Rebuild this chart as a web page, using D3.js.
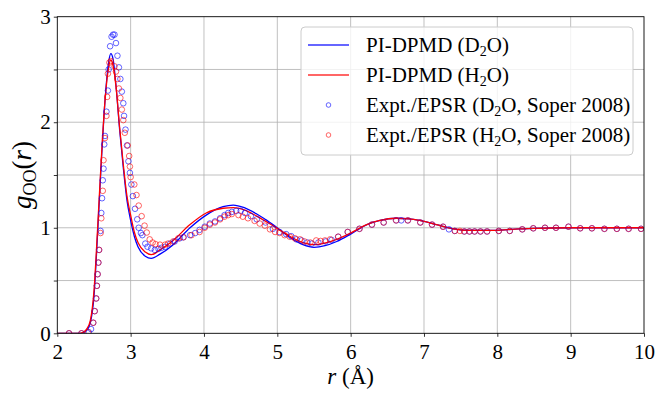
<!DOCTYPE html>
<html lang="en">
<head>
<meta charset="UTF-8">
<title>g_OO(r)</title>
<script src="https://d3js.org/d3.v7.min.js"></script>
<style>
  body { margin: 0; background: #fff; }
  svg { display: block; }
  .grid line { stroke: #b0b0b0; stroke-width: 0.8px; }
</style>
</head>
<body>
<svg width="664" height="399"></svg>
<script>
// PI-DPMD curves (r in Å)
const simR = [2.0, 2.30, 2.35, 2.40, 2.45, 2.50, 2.55, 2.60, 2.65, 2.70, 2.73, 2.76, 2.80, 2.85, 2.90, 2.95, 3.00, 3.05, 3.10, 3.20, 3.28, 3.40, 3.58, 3.81, 4.03, 4.26, 4.40, 4.55, 4.72, 4.94, 5.17, 5.35, 5.50, 5.65, 5.81, 6.00, 6.22, 6.40, 6.62, 6.80, 6.94, 7.17, 7.40, 7.62, 7.90, 8.20, 8.50, 9.00, 9.50, 10.0];
const simH2O = [0, 0, 0.01, 0.04, 0.12, 0.40, 1.00, 1.65, 2.20, 2.52, 2.59, 2.54, 2.34, 1.95, 1.60, 1.30, 1.12, 0.96, 0.86, 0.77, 0.745, 0.79, 0.88, 1.03, 1.14, 1.185, 1.19, 1.17, 1.11, 1.02, 0.92, 0.86, 0.84, 0.855, 0.89, 0.95, 1.03, 1.07, 1.09, 1.085, 1.07, 1.03, 0.99, 0.975, 0.975, 0.985, 0.995, 1.0, 1.0, 1.0];
const simD2O = [0, 0, 0.005, 0.03, 0.10, 0.35, 0.95, 1.62, 2.20, 2.57, 2.65, 2.60, 2.35, 1.93, 1.57, 1.26, 1.07, 0.92, 0.82, 0.73, 0.71, 0.75, 0.84, 1.00, 1.12, 1.20, 1.215, 1.19, 1.13, 1.03, 0.91, 0.84, 0.815, 0.83, 0.87, 0.94, 1.03, 1.07, 1.09, 1.085, 1.07, 1.03, 0.99, 0.975, 0.975, 0.985, 0.995, 1.0, 1.0, 1.0];

// Expt./EPSR, Soper 2008
const expR_D2O = [2.16, 2.33, 2.43, 2.46, 2.49, 2.51, 2.53, 2.54, 2.55, 2.56, 2.57, 2.59, 2.60, 2.61, 2.62, 2.63, 2.64, 2.65, 2.67, 2.69, 2.70, 2.72, 2.74, 2.76, 2.78, 2.80, 2.82, 2.84, 2.86, 2.88, 2.90, 2.91, 2.93, 2.95, 2.97, 2.99, 3.01, 3.03, 3.06, 3.09, 3.11, 3.14, 3.16, 3.20, 3.23, 3.28, 3.33, 3.38, 3.42, 3.47, 3.54, 3.60, 3.67, 3.72, 3.81, 3.88, 3.94, 4.01, 4.08, 4.15, 4.22, 4.28, 4.33, 4.38, 4.44, 4.50, 4.56, 4.64, 4.72, 4.84, 4.94, 5.03, 5.12, 5.19, 5.26, 5.33, 5.41, 5.47, 5.56, 5.66, 5.74, 5.83, 5.96, 6.12, 6.29, 6.45, 6.62, 6.69, 6.78, 6.95, 7.11, 7.26, 7.34, 7.42, 7.55, 7.62, 7.69, 7.77, 7.86, 8.02, 8.17, 8.34, 8.49, 8.65, 8.80, 8.97, 9.13, 9.29, 9.46, 9.63, 9.79, 9.96];
const expG_D2O = [0, 0, 0.01, 0.04, 0.10, 0.21, 0.33, 0.45, 0.56, 0.67, 0.79, 0.97, 1.14, 1.28, 1.45, 1.56, 1.79, 1.87, 2.10, 2.30, 2.50, 2.72, 2.81, 2.83, 2.83, 2.75, 2.63, 2.52, 2.41, 2.29, 2.18, 2.06, 1.93, 1.78, 1.63, 1.52, 1.41, 1.30, 1.18, 1.08, 1.00, 0.95, 0.93, 0.85, 0.82, 0.805, 0.79, 0.80, 0.81, 0.82, 0.85, 0.87, 0.90, 0.91, 0.93, 0.95, 0.98, 1.01, 1.04, 1.06, 1.09, 1.12, 1.14, 1.15, 1.16, 1.16, 1.14, 1.11, 1.08, 1.05, 0.99, 0.96, 0.94, 0.92, 0.89, 0.88, 0.86, 0.85, 0.86, 0.87, 0.885, 0.915, 0.96, 0.99, 1.03, 1.05, 1.07, 1.07, 1.07, 1.05, 1.03, 1.01, 0.985, 0.97, 0.965, 0.965, 0.965, 0.965, 0.965, 0.97, 0.97, 0.985, 0.995, 1.0, 1.0, 1.01, 0.995, 0.995, 0.99, 0.99, 0.99, 0.99];
const expR_H2O = [2.16, 2.33, 2.42, 2.49, 2.51, 2.53, 2.54, 2.55, 2.56, 2.57, 2.59, 2.60, 2.62, 2.63, 2.65, 2.67, 2.68, 2.69, 2.71, 2.73, 2.78, 2.80, 2.82, 2.84, 2.86, 2.88, 2.90, 2.92, 2.96, 2.98, 2.99, 3.00, 3.05, 3.08, 3.11, 3.15, 3.19, 3.22, 3.26, 3.30, 3.34, 3.40, 3.47, 3.51, 3.58, 3.65, 3.72, 3.83, 3.94, 4.01, 4.08, 4.15, 4.22, 4.28, 4.33, 4.38, 4.47, 4.53, 4.60, 4.69, 4.76, 4.83, 4.90, 4.97, 5.03, 5.10, 5.17, 5.24, 5.31, 5.37, 5.45, 5.53, 5.59, 5.65, 5.72, 5.83, 5.96, 6.12, 6.29, 6.45, 6.62, 6.78, 6.95, 7.11, 7.26, 7.42, 7.49, 7.55, 7.62, 7.69, 7.77, 7.86, 8.02, 8.17, 8.34, 8.49, 8.65, 8.80, 8.97, 9.13, 9.29, 9.46, 9.63, 9.79, 9.96];
const expG_H2O = [0, 0, 0.01, 0.10, 0.21, 0.33, 0.45, 0.56, 0.67, 0.79, 0.95, 1.09, 1.35, 1.64, 1.85, 2.06, 2.24, 2.46, 2.565, 2.58, 2.53, 2.48, 2.41, 2.32, 2.23, 2.12, 2.02, 1.90, 1.78, 1.68, 1.58, 1.48, 1.41, 1.31, 1.21, 1.11, 1.02, 0.955, 0.89, 0.86, 0.845, 0.84, 0.84, 0.85, 0.87, 0.90, 0.91, 0.93, 0.96, 1.0, 1.03, 1.05, 1.08, 1.105, 1.12, 1.13, 1.12, 1.105, 1.09, 1.065, 1.04, 1.02, 0.985, 0.96, 0.95, 0.93, 0.915, 0.90, 0.89, 0.87, 0.86, 0.88, 0.875, 0.88, 0.89, 0.915, 0.96, 0.99, 1.03, 1.05, 1.07, 1.07, 1.05, 1.03, 1.01, 0.97, 0.97, 0.965, 0.965, 0.965, 0.965, 0.965, 0.97, 0.97, 0.985, 0.995, 1.0, 1.0, 1.01, 0.995, 0.995, 0.99, 0.99, 0.99, 0.99];

const xTicks = [2, 3, 4, 5, 6, 7, 8, 9, 10];
const yTicks = [0, 0.5, 1, 1.5, 2, 2.5, 3];
const yLabels = [0, 1, 2, 3];

const FONT = '"Liberation Serif", "DejaVu Serif", serif';
const margin = {left: 57.3, right: 20, top: 16.7, bottom: 65.7};
const W = 664, H = 399;

const svg = d3.select('svg');

const x = d3.scaleLinear().domain([2, 10]).range([margin.left, W - margin.right]);
const y = d3.scaleLinear().domain([0, 3]).range([H - margin.bottom, margin.top]);

svg.append('defs').append('clipPath').attr('id', 'plotclip')
  .append('rect')
  .attr('x', x(2)).attr('y', y(3))
  .attr('width', x(10) - x(2)).attr('height', y(0) - y(3));

// grid
const grid = svg.append('g').attr('class', 'grid');
grid.selectAll('line.gx').data(xTicks.slice(1, -1)).enter().append('line')
  .attr('x1', d => x(d)).attr('x2', d => x(d))
  .attr('y1', y(0)).attr('y2', y(3));
grid.selectAll('line.gy').data(yTicks.slice(1, -1)).enter().append('line')
  .attr('x1', x(2)).attr('x2', x(10))
  .attr('y1', d => y(d)).attr('y2', d => y(d));

// curves
const plot = svg.append('g').attr('clip-path', 'url(#plotclip)');
const line = (vals) => d3.line()
  .x((d, i) => x(simR[i]))
  .y(d => y(d))
  .curve(d3.curveMonotoneX)(vals);

plot.append('path').attr('d', line(simD2O))
  .attr('fill', 'none').attr('stroke', '#0000ff').attr('stroke-width', 1.3);
plot.append('path').attr('d', line(simH2O))
  .attr('fill', 'none').attr('stroke', '#ff0000').attr('stroke-width', 1.3);

// experimental points
plot.append('g').selectAll('circle').data(expR_D2O).enter().append('circle')
  .attr('cx', d => x(d)).attr('cy', (d, i) => y(expG_D2O[i])).attr('r', 2.8)
  .attr('fill', 'none').attr('stroke', '#0000ff').attr('stroke-opacity', 0.6).attr('stroke-width', 1);
plot.append('g').selectAll('circle').data(expR_H2O).enter().append('circle')
  .attr('cx', d => x(d)).attr('cy', (d, i) => y(expG_H2O[i])).attr('r', 2.8)
  .attr('fill', 'none').attr('stroke', '#ff0000').attr('stroke-opacity', 0.6).attr('stroke-width', 1);

// axes
const xAxis = svg.append('g').attr('transform', `translate(0,${y(0)})`)
  .call(d3.axisBottom(x).tickValues(xTicks).tickSize(3.5).tickPadding(3).tickFormat(d3.format('d')));
const yAxis = svg.append('g').attr('transform', `translate(${x(2)},0)`)
  .call(d3.axisLeft(y).tickValues(yTicks).tickSize(3.5).tickPadding(3)
    .tickFormat(d => yLabels.includes(d) ? d3.format('d')(d) : ''));
[xAxis, yAxis].forEach(a => {
  a.select('.domain').remove();
  a.selectAll('.tick line').attr('stroke', '#000').attr('stroke-width', 0.8);
  a.selectAll('.tick text').style('font-size', '21px');
});
xAxis.selectAll('.tick text').attr('dy', '0.9em');

// frame
svg.append('rect')
  .attr('x', x(2)).attr('y', y(3))
  .attr('width', x(10) - x(2)).attr('height', y(0) - y(3))
  .attr('fill', 'none').attr('stroke', '#000').attr('stroke-width', 0.9);

// axis labels
svg.append('text')
  .attr('x', (x(2) + x(10)) / 2).attr('y', 384)
  .attr('text-anchor', 'middle').style('font-size', '23px')
  .html('<tspan font-style="italic">r</tspan> (Å)');

const yl = svg.append('text')
  .attr('transform', `translate(31,${(y(0) + y(3)) / 2}) rotate(-90)`)
  .attr('text-anchor', 'middle').style('font-size', '27px');
yl.append('tspan').attr('font-style', 'italic').text('g');
yl.append('tspan').attr('dy', 5).style('font-size', '18px').text('OO');
yl.append('tspan').attr('dy', -5).text('(');
yl.append('tspan').attr('font-style', 'italic').text('r');
yl.append('tspan').text(')');

// legend
const legendItems = [
  {kind: 'line', color: '#0000ff', pre: 'PI-DPMD (D', post: 'O)'},
  {kind: 'line', color: '#ff0000', pre: 'PI-DPMD (H', post: 'O)'},
  {kind: 'dot', color: '#0000ff', pre: 'Expt./EPSR (D', post: 'O, Soper 2008)'},
  {kind: 'dot', color: '#ff0000', pre: 'Expt./EPSR (H', post: 'O, Soper 2008)'}
];
const lg = svg.append('g');
lg.append('rect')
  .attr('x', 301).attr('y', 27).attr('width', 332).attr('height', 128)
  .attr('rx', 4).attr('fill', '#fff').attr('fill-opacity', 0.8)
  .attr('stroke', '#cccccc').attr('stroke-width', 1);
legendItems.forEach((d, i) => {
  const cy = 45 + i * 30;
  if (d.kind === 'line') {
    lg.append('line').attr('x1', 308).attr('x2', 349).attr('y1', cy).attr('y2', cy)
      .attr('stroke', d.color).attr('stroke-width', 1.3).attr('stroke-opacity', 0.8);
  } else {
    lg.append('circle').attr('cx', 328.5).attr('cy', cy).attr('r', 2.3)
      .attr('fill', 'none').attr('stroke', d.color).attr('stroke-opacity', 0.6).attr('stroke-width', 1);
  }
  const t = lg.append('text').attr('x', 366).attr('y', cy + 7).style('font-size', '21px');
  t.append('tspan').text(d.pre);
  t.append('tspan').attr('dy', 4).style('font-size', '14px').text('2');
  t.append('tspan').attr('dy', -4).text(d.post);
});

// one font for every label
svg.selectAll('text').style('font-family', FONT).attr('fill', '#000');
</script>
</body>
</html>
